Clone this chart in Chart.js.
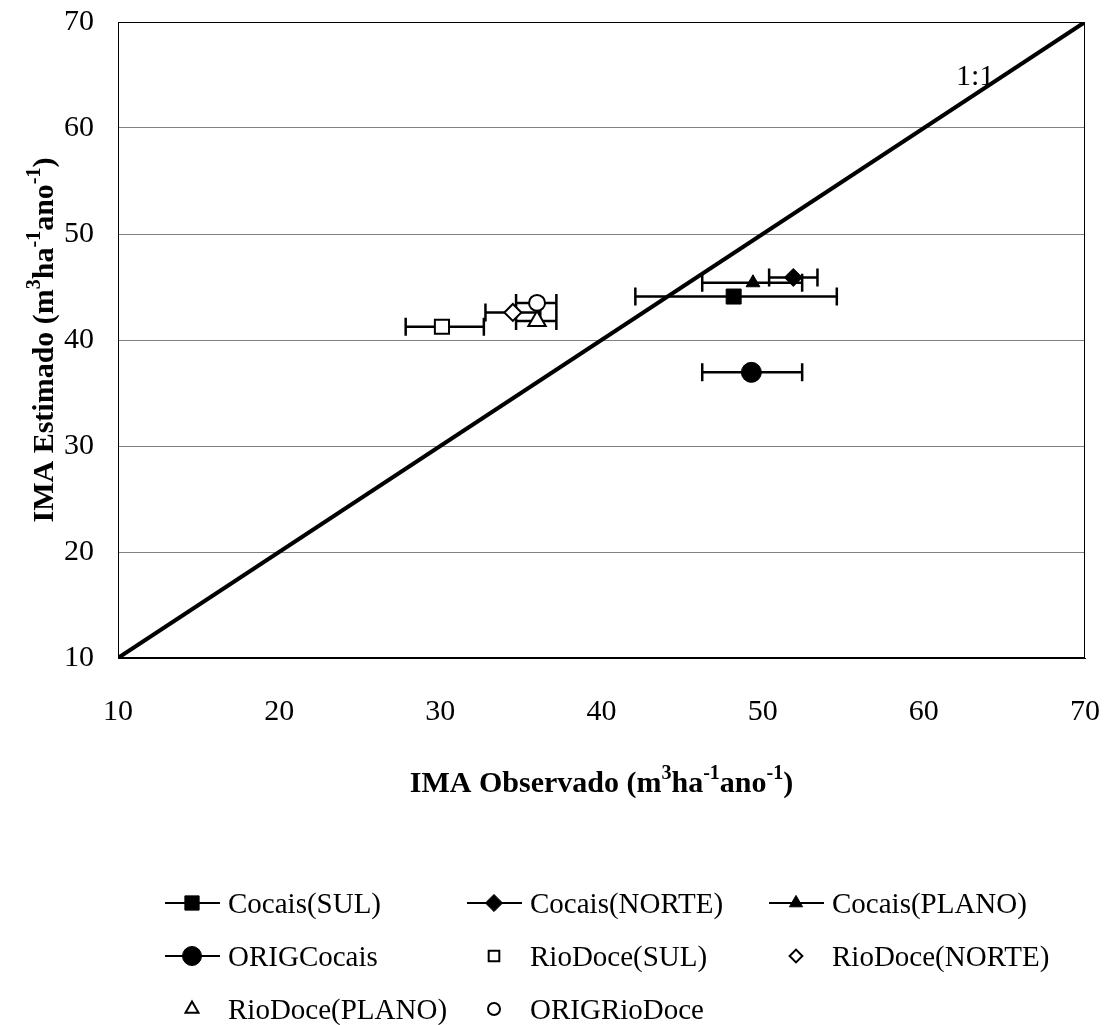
<!DOCTYPE html>
<html>
<head>
<meta charset="utf-8">
<script src="https://cdn.jsdelivr.net/npm/chart.js@4.4.0/dist/chart.umd.min.js"></script>
<style>
  html, body { margin: 0; padding: 0; background: #fff; }
  #wrap { width: 1112px; height: 1025px; }
</style>
</head>
<body>
<div id="wrap"><canvas id="chart" width="1112" height="1025"></canvas></div>
<script>
// data
const seriesNames = ['Cocais(SUL)', 'Cocais(NORTE)', 'Cocais(PLANO)', 'ORIGCocais',
                     'RioDoce(SUL)', 'RioDoce(NORTE)', 'RioDoce(PLANO)', 'ORIGRioDoce'];
const observed  = [48.2, 51.9, 49.4, 49.3, 30.1, 34.5, 36.0, 36.0];
const estimated = [44.1, 45.9, 45.4, 36.95, 41.25, 42.6, 41.8, 43.5];
const errLow    = [42.1, 50.4, 46.25, 46.25, 27.85, 32.8, 34.7, 34.7];
const errHigh   = [54.6, 53.4, 52.45, 52.45, 32.7, 36.2, 37.2, 37.2];
const oneToOne  = [10, 70];
const axisMin = 10, axisMax = 70, axisStep = 10;

// marker look per series
const markerStyle = ['rect', 'rectRot', 'triangle', 'circle', 'rect', 'rectRot', 'triangle', 'circle'];
const markerFilled = [true, true, true, true, false, false, false, false];
const markerRadius = [10.6, 9, 8, 10, 10, 8.5, 10, 8];

const FONT = '"Liberation Serif", "Times New Roman", serif';

const datasets = seriesNames.map((name, i) => ({
  type: 'scatter',
  label: name,
  data: [{ x: observed[i], y: estimated[i] }],
  pointStyle: markerStyle[i],
  pointRadius: markerRadius[i],
  pointHoverRadius: markerRadius[i],
  backgroundColor: markerFilled[i] ? '#000' : '#fff',
  borderColor: '#000',
  borderWidth: markerFilled[i] ? 1 : 2,
  order: 0
}));

datasets.push({
  type: 'line',
  label: '1:1',
  data: oneToOne.map(v => ({ x: v, y: v })),
  borderColor: '#000',
  borderWidth: 4,
  pointRadius: 0,
  fill: false,
  order: 10
});

// horizontal error bars with caps, placed via the chart scales
const errorBars = {
  id: 'errorBars',
  beforeDatasetsDraw(chart) {
    const { ctx, scales: { x, y } } = chart;
    ctx.save();
    ctx.strokeStyle = '#000';
    ctx.lineWidth = 2.5;
    seriesNames.forEach((n, i) => {
      const py = y.getPixelForValue(estimated[i]);
      const x0 = x.getPixelForValue(errLow[i]);
      const x1 = x.getPixelForValue(errHigh[i]);
      ctx.beginPath();
      ctx.moveTo(x0, py); ctx.lineTo(x1, py);
      ctx.moveTo(x0, py - 9); ctx.lineTo(x0, py + 9);
      ctx.moveTo(x1, py - 9); ctx.lineTo(x1, py + 9);
      ctx.stroke();
    });
    ctx.restore();
  }
};

function richText(ctx, parts, x, y, size, bold, align) {
  const base = (bold ? 'bold ' : '') + size + 'px ' + FONT;
  const sup = (bold ? 'bold ' : '') + Math.round(size * 0.68) + 'px ' + FONT;
  let w = 0;
  parts.forEach(p => { ctx.font = p[1] ? sup : base; w += ctx.measureText(p[0]).width; });
  let cx = align === 'center' ? x - w / 2 : x;
  ctx.textAlign = 'left';
  ctx.textBaseline = 'alphabetic';
  parts.forEach(p => {
    ctx.font = p[1] ? sup : base;
    ctx.fillText(p[0], cx, p[1] ? y - size * 0.42 : y);
    cx += ctx.measureText(p[0]).width;
  });
}

function drawMarker(ctx, i, px, py, r) {
  const opts = {
    pointStyle: markerStyle[i], radius: r, rotation: 0,
    borderWidth: markerFilled[i] ? 1 : 2
  };
  ctx.fillStyle = markerFilled[i] ? '#000' : '#fff';
  ctx.strokeStyle = '#000';
  ctx.lineWidth = opts.borderWidth;
  Chart.helpers.drawPoint(ctx, opts, px, py);
}

const frameAndText = {
  id: 'frameAndText',
  afterDraw(chart) {
    const { ctx, chartArea: a } = chart;
    ctx.save();
    ctx.strokeStyle = '#000';
    ctx.lineWidth = 1;
    ctx.strokeRect(a.left + 0.5, a.top + 0.5, a.right - a.left - 1, a.bottom - a.top - 1);

    ctx.fillStyle = '#000';
    ctx.font = '30px ' + FONT;
    ctx.textAlign = 'left';
    ctx.textBaseline = 'alphabetic';
    ctx.fillText('1:1', 956, 85);

    const unit = [['(m', 0], ['3', 1], ['ha', 0], ['-1', 1], ['ano', 0], ['-1', 1], [')', 0]];
    richText(ctx, [['IMA Observado ', 0]].concat(unit), (a.left + a.right) / 2, 792, 30, true, 'center');

    ctx.save();
    ctx.translate(53, (a.top + a.bottom) / 2);
    ctx.rotate(-Math.PI / 2);
    richText(ctx, [['IMA Estimado ', 0]].concat(unit), 0, 0, 30, true, 'center');
    ctx.restore();

    // legend, 3 columns
    const colX = [192, 494, 796];
    const rowY = [903, 956, 1009];
    seriesNames.forEach((name, i) => {
      const mx = colX[i % 3], my = rowY[Math.floor(i / 3)];
      if (markerFilled[i]) {
        ctx.strokeStyle = '#000';
        ctx.lineWidth = 2;
        ctx.beginPath();
        ctx.moveTo(mx - 27, my); ctx.lineTo(mx + 28, my);
        ctx.stroke();
      }
      drawMarker(ctx, i, mx, my, markerFilled[i] ? markerRadius[i] * 0.95 : markerRadius[i] * 0.75);
      ctx.fillStyle = '#000';
      ctx.font = '29px ' + FONT;
      ctx.textAlign = 'left';
      ctx.textBaseline = 'alphabetic';
      ctx.fillText(name, mx + 36, my + 10);
    });
    ctx.restore();
  }
};

new Chart(document.getElementById('chart'), {
  data: { datasets },
  options: {
    responsive: false,
    animation: false,
    layout: { padding: { left: 0, top: 22, right: 27, bottom: 0 } },
    plugins: { legend: { display: false }, tooltip: { enabled: false } },
    scales: {
      x: {
        type: 'linear',
        min: axisMin, max: axisMax,
        afterFit: s => { s.height = 367; s.paddingLeft = 0; s.paddingRight = 0; },
        ticks: { stepSize: axisStep, color: '#000', padding: 36, font: { family: FONT, size: 30 } },
        grid: { display: false, drawTicks: false },
        border: { display: true, color: '#000', width: 1 }
      },
      y: {
        type: 'linear',
        min: axisMin, max: axisMax,
        afterFit: s => { s.width = 118; s.paddingTop = 0; s.paddingBottom = 0; },
        ticks: { stepSize: axisStep, color: '#000', padding: 24, font: { family: FONT, size: 30 } },
        grid: { color: '#808080', lineWidth: 1, drawTicks: false },
        border: { display: true, color: '#000', width: 1 }
      }
    }
  },
  plugins: [errorBars, frameAndText]
});
</script>
</body>
</html>
